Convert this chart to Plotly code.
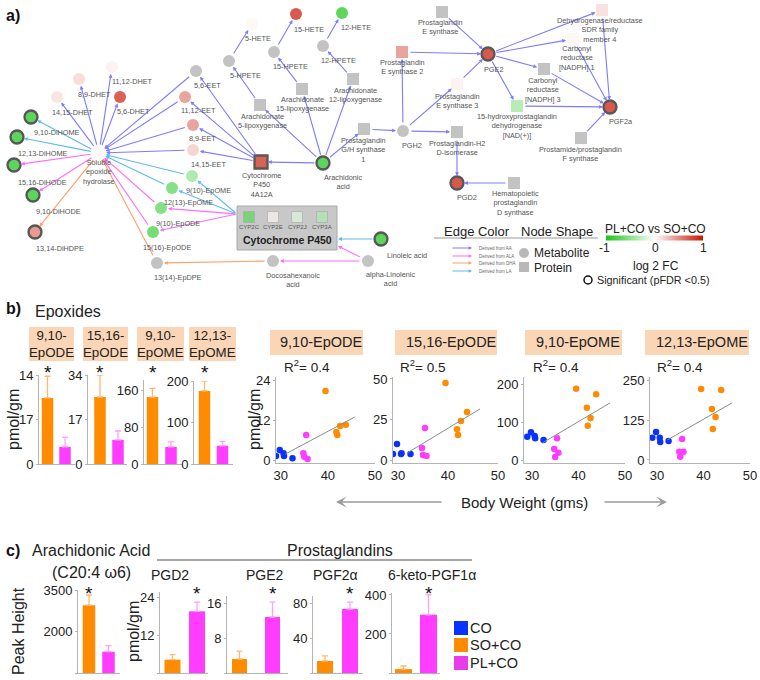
import plotly.graph_objects as go

W, H = 760, 680
FONT = "Arial, 'Liberation Sans', sans-serif"

# ======================= DATA =======================
# ---- (a) network: log2 FC (PL+CO vs SO+CO); None = not measured ----
node_ids = ["5-HETE", "15-HETE", "12-HETE", "5-HPETE", "15-HPETE", "12-HPETE", "ALOX15", "ALOX12", "ALOX5",
            "5,6-EET", "11,12-DHET", "8,9-DHET", "14,15-DHET", "5,6-DHET", "11,12-EET", "8,9-EET", "14,15-EET",
            "9,10-DiHOME", "12,13-DiHOME", "15,16-DiHODE", "9,10-DiHODE", "13,14-DiHDPE", "sEH", "CYP4A12A",
            "AA", "PTGS1", "9(10)-EpOME", "12(13)-EpOME", "9(10)-EpODE", "15(16)-EpODE", "13(14)-EpDPE",
            "DHA", "ALA", "LA", "PTGES", "PTGES2", "PGE2", "PTGES3", "DHRS4", "CBR1", "CBR3", "HPGD",
            "PGF2a", "PGH2", "PTGDS", "PGFS", "PGD2", "HPGDS", "CYP2C", "CYP2E", "CYP2J", "CYP3A"]
node_log2fc = [0.05, 1.0, -1.0, None, None, None, None, None, None,
               None, 0.08, 0.2, 0.15, 0.95, 0.55, 0.55, 0.25,
               -1.0, -1.0, -1.0, -1.0, 0.6, 0.04, 0.95,
               -1.0, None, -0.5, -0.75, -0.75, -0.85, None,
               None, None, -1.0, None, 0.55, 1.0, 0.08, 0.18, 0.05, None, -0.45,
               1.0, None, None, None, 1.0, None, -0.7, 0.05, -0.15, -0.35]
significant_nodes = ["9,10-DiHOME", "12,13-DiHOME", "15,16-DiHODE", "9,10-DiHODE", "13,14-DiHDPE",
                     "CYP4A12A", "AA", "LA", "PGE2", "PGF2a", "PGD2"]
# edges: (from, to, precursor)
edges = [
    ("AA", "CYP4A12A", "AA"), ("AA", "ALOX5", "AA"), ("AA", "ALOX15", "AA"), ("AA", "ALOX12", "AA"),
    ("AA", "PTGS1", "AA"), ("ALOX5", "5-HPETE", "AA"), ("ALOX15", "15-HPETE", "AA"),
    ("ALOX12", "12-HPETE", "AA"), ("5-HPETE", "5-HETE", "AA"), ("15-HPETE", "15-HETE", "AA"),
    ("12-HPETE", "12-HETE", "AA"), ("CYP4A12A", "5,6-EET", "AA"), ("CYP4A12A", "11,12-EET", "AA"),
    ("CYP4A12A", "8,9-EET", "AA"), ("CYP4A12A", "14,15-EET", "AA"), ("5,6-EET", "sEH", "AA"),
    ("11,12-EET", "sEH", "AA"), ("8,9-EET", "sEH", "AA"), ("14,15-EET", "sEH", "AA"),
    ("sEH", "14,15-DHET", "AA"), ("sEH", "8,9-DHET", "AA"), ("sEH", "11,12-DHET", "AA"),
    ("sEH", "5,6-DHET", "AA"), ("PTGS1", "PGH2", "AA"), ("PGH2", "PTGES2", "AA"), ("PGH2", "PTGES3", "AA"),
    ("PGH2", "PTGDS", "AA"), ("PTGES", "PGE2", "AA"), ("PTGES2", "PGE2", "AA"), ("PTGES3", "PGE2", "AA"),
    ("PGE2", "DHRS4", "AA"), ("PGE2", "CBR1", "AA"), ("PGE2", "CBR3", "AA"), ("PGE2", "HPGD", "AA"),
    ("DHRS4", "PGF2a", "AA"), ("CBR1", "PGF2a", "AA"), ("CBR3", "PGF2a", "AA"), ("HPGD", "PGF2a", "AA"),
    ("PGFS", "PGF2a", "AA"), ("PTGDS", "PGD2", "AA"), ("HPGDS", "PGD2", "AA"),
    ("LA", "BOX_R1", "LA"), ("BOX_L", "9(10)-EpOME", "LA"), ("BOX_L", "12(13)-EpOME", "LA"),
    ("9(10)-EpOME", "sEH", "LA"), ("12(13)-EpOME", "sEH", "LA"), ("sEH", "9,10-DiHOME", "LA"),
    ("sEH", "12,13-DiHOME", "LA"),
    ("ALA", "BOX_R2", "ALA"), ("ALA", "DHA", "ALA"), ("BOX_L", "9(10)-EpODE", "ALA"),
    ("BOX_L", "15(16)-EpODE", "ALA"), ("9(10)-EpODE", "sEH", "ALA"), ("15(16)-EpODE", "sEH", "ALA"),
    ("sEH", "15,16-DiHODE", "ALA"), ("sEH", "9,10-DiHODE", "ALA"),
    ("DHA", "13(14)-EpDPE", "DHA"), ("13(14)-EpDPE", "sEH", "DHA"), ("sEH", "13,14-DiHDPE", "DHA"),
]

# ---- (b) epoxides: bars (SO+CO, PL+CO) mean and upper error ----
epox_names = ["9,10-<br>EpODE", "15,16-<br>EpODE", "9,10-<br>EpOME", "12,13-<br>EpOME"]
epox_so_mean = [10.4, 25.6, 145, 176]
epox_so_err = [3.4, 8.4, 19, 24]
epox_pl_mean = [2.7, 9.2, 37, 44]
epox_pl_err = [1.5, 3.4, 11, 10]
epox_yticks = [[0, 7, 14], [0, 17, 34], [0, 80, 160], [0, 100, 200]]
epox_yticktext = [["0", "17", "14"], ["0", "17", "34"], ["0", "80", "160"], ["0", "100", "200"]]

# ---- (b) scatter: body weight vs epoxide ----
scatter_titles = ["9,10-EpODE", "15,16-EpODE", "9,10-EpOME", "12,13-EpOME"]
r2_values = ["0.4", "0.5", "0.4", "0.4"]
bw_co = [29.0, 29.8, 30.6, 30.7, 32.5]
bw_so = [39.5, 41.8, 42.0, 42.6, 43.8]
bw_pl = [34.8, 35.0, 35.4, 35.7]
y_co = [[1.2, 3.0, 2.0, 1.2, 0.5], [3.7, 9.9, 3.7, 4.2, 3.7], [62, 74, 64, 58, 53], [70, 88, 70, 57, 60]]
y_so = [[20.7, 8.4, 7.5, 10.2, 10.6], [47.5, 19, 15.4, 24, 29.6], [190, 139, 91, 112, 175], [224, 161, 98, 136, 221]]
y_pl = [[2.0, 1.0, 7.5, 0.3], [7.4, 3.1, 19.8, 2.5], [29, 8, 58, 19], [26, 10, 66, 26]]
trend_x = [[31.0, 45.7], [31.8, 46.4], [32.2, 46.8], [32.2, 46.1]]
trend_y = [[1.8, 12.9], [4.3, 31.5], [45, 152], [63, 180]]
scatter_yticks = [[0, 12, 24], [0, 25, 50], [0, 100, 200], [0, 125, 250]]
bw_ticks = [30, 40, 50]

# ---- (c) arachidonic acid and prostaglandins ----
c_names = ["AA", "PGD2", "PGE2", "PGF2α", "6-keto-PGF1α"]
c_so_mean = [2950, 4.2, 3.2, 13.9, 20]
c_so_err = [370, 1.6, 1.8, 5.8, 16]
c_pl_mean = [1270, 19.5, 12.8, 74, 298]
c_pl_err = [220, 2.9, 3.4, 8, 102]
c_yticks = [[500, 2000, 3500], [0, 12, 24], [0, 8, 16], [0, 40, 80], [0, 200, 400]]
c_star_on = [0, 1, 1, 1, 1]   # 0 = SO+CO bar, 1 = PL+CO bar

group_names = ["CO", "SO+CO", "PL+CO"]

# ======================= STYLE / LAYOUT =======================
C_CO, C_SO, C_PL = "#0a32ff", "#ff8c00", "#ff3cff"
E_SO, E_PL = "#ffb870", "#ffa0ff"
PEACH = "#fbd6b6"
EDGE_COL = {"AA": "#7c7cff", "ALA": "#ff6cff", "DHA": "#ff9f6a", "LA": "#5cbcec"}
CSCALE = [[0, "#19c419"], [0.5, "#ffffff"], [1, "#c81400"]]
LBL = 7.3  # network label size

# node layout in figure pixels: id -> (x, y, shape, label, label_x, label_y)
NL = {
    "5-HETE": (252, 24, "o", "5-HETE", 258, 38),
    "15-HETE": (296, 14, "o", "15-HETE", 309, 29),
    "12-HETE": (342, 13, "o", "12-HETE", 356, 27),
    "5-HPETE": (229, 61, "o", "5-HPETE", 245, 75),
    "15-HPETE": (274, 52, "o", "15-HPETE", 290, 66),
    "12-HPETE": (323, 46, "o", "12-HPETE", 338, 60),
    "ALOX15": (302, 89, "s", "Arachidonate<br>15-lipoxygenase", 302, 104),
    "ALOX12": (353, 79, "s", "Arachidonate<br>12-lipoxygenase", 355, 95),
    "ALOX5": (260, 105, "s", "Arachidonate<br>5-lipoxygenase", 262, 121),
    "5,6-EET": (196, 71, "o", "5,6-EET", 207, 85),
    "11,12-DHET": (112, 67, "o", "11,12-DHET", 132, 81),
    "8,9-DHET": (79, 79, "o", "8,9-DHET", 94, 94),
    "14,15-DHET": (57, 97, "o", "14,15-DHET", 72, 112),
    "5,6-DHET": (120, 97, "o", "5,6-DHET", 133, 111),
    "11,12-EET": (185, 97, "o", "11,12-EET", 198, 110),
    "8,9-EET": (193, 125, "o", "8,9-EET", 202, 138),
    "14,15-EET": (193, 150, "o", "14,15-EET", 208, 164),
    "9,10-DiHOME": (31, 117, "o", "9,10-DiHOME", 57, 132),
    "12,13-DiHOME": (17, 137, "o", "12,13-DiHOME", 43, 153),
    "15,16-DiHODE": (14, 165, "o", "15,16-DiHODE", 42, 182),
    "9,10-DiHODE": (33, 195, "o", "9,10-DiHODE", 58, 211),
    "13,14-DiHDPE": (35, 232, "o", "13,14-DiHDPE", 60, 248),
    "sEH": (99, 153, "s", "Soluble<br>epoxide<br>hydrolase", 99, 172),
    "CYP4A12A": (261, 162, "s", "Cytochrome<br>P450<br>4A12A", 261, 185),
    "AA": (323, 163, "o", "Arachidonic<br>acid", 343, 182),
    "PTGS1": (364, 129, "s", "Prostaglandin<br>G/H synthase<br>1", 363, 150),
    "9(10)-EpOME": (192, 176, "o", "9(10)-EpOME", 208, 190),
    "12(13)-EpOME": (172, 188, "o", "12(13)-EpOME", 188, 202),
    "9(10)-EpODE": (161, 208, "o", "9(10)-EpODE", 178, 223),
    "15(16)-EpODE": (153, 232, "o", "15(16)-EpODE", 167, 247),
    "13(14)-EpDPE": (157, 263, "o", "13(14)-EpDPE", 178, 277),
    "DHA": (273, 261, "o", "Docosahexanoic<br>acid", 293, 280),
    "ALA": (368, 261, "o", "alpha-Linolenic<br>acid", 390, 279),
    "LA": (381, 239, "o", "Linoleic acid", 407, 255),
    "PTGES": (442, 12, "s", "Prostaglandin<br>E synthase", 440, 27),
    "PTGES2": (402, 52, "s", "Prostaglandin<br>E synthase 2", 402, 67),
    "PGE2": (488, 54, "o", "PGE2", 493, 69),
    "PTGES3": (457, 84, "s", "Prostaglandin<br>E synthase 3", 457, 101),
    "DHRS4": (602, 10, "s", "Dehydrogenase/reductase<br>SDR family<br>member 4", 600, 30),
    "CBR1": (573, 39, "s", "Carbonyl<br>reductase<br>[NADPH] 1", 577, 58),
    "CBR3": (544, 69, "s", "Carbonyl<br>reductase<br>[NADPH] 3", 543, 90),
    "HPGD": (517, 106, "s", "15-hydroxyprostaglandin<br>dehydrogenase<br>[NAD(+)]", 517, 126),
    "PGF2a": (610, 107, "o", "PGF2a", 621, 121),
    "PGH2": (403, 131, "o", "PGH2", 412, 145),
    "PTGDS": (457, 132, "s", "Prostaglandin-H2<br>D-isomerase", 457, 148),
    "PGFS": (581, 138, "s", "Prostamide/prostaglandin<br>F synthase", 580, 154),
    "PGD2": (457, 183, "o", "PGD2", 467, 197),
    "HPGDS": (514, 183, "s", "Hematopoietic<br>prostaglandin<br>D synthase", 515, 203),
    "CYP2C": (249, 217, "b", "CYP2C", 249, 227),
    "CYP2E": (273, 217, "b", "CYP2E", 273, 227),
    "CYP2J": (297, 217, "b", "CYP2J", 297, 227),
    "CYP3A": (322, 217, "b", "CYP3A", 322, 227),
    "BOX_L": (237, 214, "v", None, 0, 0),
    "BOX_R1": (338, 239, "v", None, 0, 0),
    "BOX_R2": (338, 246, "v", None, 0, 0),
}

fig = go.Figure()
ann = []
shapes = []
layout_axes = {}


def T(x, y, text, size=12, color="#222", xanchor="center", yanchor="middle", bold=False, angle=0):
    if bold:
        text = "<b>" + text + "</b>"
    ann.append(dict(x=x, y=y, xref="x", yref="y", text=text, showarrow=False, xanchor=xanchor,
                    yanchor=yanchor, textangle=angle, font=dict(size=size, color=color, family=FONT)))


def rect(x0, y0, x1, y1, fill, line="rgba(0,0,0,0)", lw=0):
    shapes.append(dict(type="rect", xref="x", yref="y", x0=x0, y0=y0, x1=x1, y1=y1, fillcolor=fill,
                       line=dict(color=line, width=lw), layer="below"))


def line(x0, y0, x1, y1, color, w=1):
    shapes.append(dict(type="line", xref="x", yref="y", x0=x0, y0=y0, x1=x1, y1=y1,
                       line=dict(color=color, width=w)))


def arrow(x0, y0, x1, y1, color, w=1.1, size=0.8, so=0, sso=0, head=2):
    ann.append(dict(x=x1, y=y1, ax=x0, ay=y0, xref="x", yref="y", axref="x", ayref="y", text="",
                    showarrow=True, arrowhead=head, arrowsize=size, arrowwidth=w, arrowcolor=color,
                    standoff=so, startstandoff=sso))


# ------------------ panel a ------------------
T(13, 15, "a)", 16, "#111", bold=True)
rect(237, 206, 337, 250, "#c8c8c8", "#a8a8a8", 1)
T(287, 240, "Cytochrome P450", 10.5, "#222", bold=True)


def radius(n):
    s = NL[n][2]
    return 0 if s == "v" else 7

for s, t, p in edges:
    x0, y0 = NL[s][0], NL[s][1]
    x1, y1 = NL[t][0], NL[t][1]
    arrow(x0, y0, x1, y1, EDGE_COL[p], w=1.1, size=0.7, so=radius(t), sso=radius(s))

fc = dict(zip(node_ids, node_log2fc))
cx, cy, cc, csym, csize, clw, clc = [], [], [], [], [], [], []
gx, gy, gsym = [], [], []
for n in node_ids:
    x, y, sh, lab, lx, ly = NL[n]
    sym = "circle" if sh == "o" else "square"
    if fc[n] is None:
        gx.append(x); gy.append(y); gsym.append(sym)
    else:
        cx.append(x); cy.append(y); cc.append(fc[n]); csym.append(sym)
        sig = n in significant_nodes
        csize.append(11 if sh == "b" else (13 if sig else 12))
        clw.append(2.3 if sig else (0.6 if sh == "b" else 0))
        clc.append("#111" if sig else ("#9a9a9a" if sh == "b" else "rgba(0,0,0,0)"))
    if lab:
        T(lx, ly, lab, 6 if sh == "b" else LBL, "#555")

fig.add_trace(go.Scatter(x=gx, y=gy, mode="markers", xaxis="x", yaxis="y", hoverinfo="skip",
                         marker=dict(symbol=gsym, size=12, color="#c3c3c3", line=dict(width=0))))
fig.add_trace(go.Scatter(
    x=cx, y=cy, mode="markers", xaxis="x", yaxis="y", hoverinfo="skip",
    marker=dict(symbol=csym, size=csize, color=cc, colorscale=CSCALE, cmin=-1, cmax=1,
                line=dict(width=clw, color=clc), showscale=True,
                colorbar=dict(orientation="h", x=654.5 / W, xanchor="center", y=1 - 238 / H, yanchor="middle",
                              len=97 / W, lenmode="fraction", thickness=5, showticklabels=False, ticks="",
                              outlinewidth=0, xpad=0, ypad=0))))

# legend of network
T(477, 231, "Edge Color", 13, "#222")
T(557, 231, "Node Shape", 13, "#222")
line(434, 238, 598, 238, "#999", 1)
for i, (p, lab) in enumerate([("AA", "Derived from AA"), ("ALA", "Derived from ALA"),
                              ("DHA", "Derived from DHA"), ("LA", "Derived from LA")]):
    yy = [248, 256, 263, 271][i]
    arrow(451, yy, 472, yy, EDGE_COL[p], w=1, size=0.7)
    T(477, yy, lab, 4.5, "#666", xanchor="left")
fig.add_trace(go.Scatter(x=[524, 524], y=[253, 267], mode="markers", xaxis="x", yaxis="y", hoverinfo="skip",
                         marker=dict(symbol=["circle", "square"], size=10, color="#b8b8b8")))
T(532, 253, "Metabolite", 12, "#222", xanchor="left")
T(532, 268, "Protein", 12, "#222", xanchor="left")
T(655, 229, "PL+CO vs SO+CO", 12, "#222")
T(604, 248, "-1", 12, "#222")
T(655, 248, "0", 12, "#222")
T(703, 248, "1", 12, "#222")
T(656, 266, "log 2 FC", 12, "#222")
fig.add_trace(go.Scatter(x=[588], y=[280], mode="markers", xaxis="x", yaxis="y", hoverinfo="skip",
                         marker=dict(symbol="circle-open", size=8, color="#111", line=dict(width=1.5))))
T(595, 280, "Significant (pFDR <0.5)", 10.8, "#222", xanchor="left")

# network axis = full-figure pixel coordinates
layout_axes["xaxis"] = dict(domain=[0, 1], range=[0, W], visible=False, fixedrange=True)
layout_axes["yaxis"] = dict(domain=[0, 1], range=[H, 0], visible=False, fixedrange=True)

AXC = "#b4b4b4"


def add_axes(i, xl, xr, yt, yb, xrange, yrange, yticks, yticktext=None, xticks=None, tick_size=12.5):
    layout_axes[f"xaxis{i}"] = dict(domain=[xl / W, xr / W], range=xrange, anchor=f"y{i}", showline=True,
                                    linecolor=AXC, linewidth=1, showgrid=False, zeroline=False,
                                    ticks="", showticklabels=xticks is not None,
                                    tickvals=xticks, tickfont=dict(size=tick_size, color="#222", family=FONT),
                                    fixedrange=True)
    layout_axes[f"yaxis{i}"] = dict(domain=[1 - yb / H, 1 - yt / H], range=yrange, anchor=f"x{i}",
                                    showline=True, linecolor=AXC, linewidth=1, showgrid=False,
                                    zeroline=False, ticks="outside", ticklen=2, tickcolor=AXC,
                                    tickvals=yticks, ticktext=yticktext or [str(v) for v in yticks],
                                    tickfont=dict(size=tick_size, color="#222", family=FONT), fixedrange=True)


def bar_pair(i, so_m, so_e, pl_m, pl_e, wdt):
    fig.add_trace(go.Bar(x=[0], y=[so_m], width=wdt, marker=dict(color=C_SO, line=dict(width=0)),
                         xaxis=f"x{i}", yaxis=f"y{i}", hoverinfo="skip",
                         error_y=dict(type="data", symmetric=False, array=[so_e], arrayminus=[0],
                                      color=E_SO, thickness=1.3, width=3)))
    fig.add_trace(go.Bar(x=[1], y=[pl_m], width=wdt, marker=dict(color=C_PL, line=dict(width=0)),
                         xaxis=f"x{i}", yaxis=f"y{i}", hoverinfo="skip",
                         error_y=dict(type="data", symmetric=False, array=[pl_e], arrayminus=[0],
                                      color=E_PL, thickness=1.3, width=3)))


def star(i, xpos, y):
    ann.append(dict(x=xpos, y=y, xref=f"x{i}", yref="y", text="*", showarrow=False,
                    font=dict(size=19, color="#111", family=FONT), yanchor="middle"))


# ------------------ panel b ------------------
T(13, 308, "b)", 16, "#111", bold=True)
T(68, 311, "Epoxides", 16, "#222")
# bar charts: axis px, centre0 px, px per unit, right px, top px, ymax
b_geo = [(39, 47.5, 17.5, 75, 375, 14), (88, 100, 18, 127, 375, 34),
         (144, 152.5, 18.5, 182, 380, 182), (194, 204.5, 18, 233, 381, 200)]
b_box = [(29, 74), (83, 128), (137, 184), (189, 236)]
for k in range(4):
    i = 2 + k
    ax, c0, ppu, xr, yt, ymax = b_geo[k]
    lo = -(c0 - ax) / ppu
    add_axes(i, ax, xr, yt, 464, [lo, lo + (xr - ax) / ppu], [0, ymax], epox_yticks[k], epox_yticktext[k],
             tick_size=13)
    bar_pair(i, epox_so_mean[k], epox_so_err[k], epox_pl_mean[k], epox_pl_err[k], 11.5 / ppu)
    rect(b_box[k][0], 327, b_box[k][1], 361, PEACH)
    T((b_box[k][0] + b_box[k][1]) / 2, 344, epox_names[k], 13.3, "#222")
    star(i, 0, 372)
T(13, 420, "pmol/gm", 16, "#222", angle=-90)

# scatter plots
s_geo = [(276, 375, 29.0, [-0.9, 24.9]), (393, 498, 29.0, [-1.85, 51.2]),
         (524, 625, 28.3, [-8, 221]), (650, 750, 28.5, [-9.5, 262])]
s_box = [(270, 363, 321), (395, 497, 451), (525, 622, 578), (645, 749, 702)]
s_r2x = [282, 398, 531, 655]
for k in range(4):
    i = 6 + k
    xl, xr, x0, yr = s_geo[k]
    add_axes(i, xl, xr, 377, 463, [x0, 50], yr, scatter_yticks[k], xticks=bw_ticks, tick_size=13)
    for xs, ys, col in [(bw_co, y_co[k], C_CO), (bw_pl, y_pl[k], C_PL), (bw_so, y_so[k], C_SO)]:
        fig.add_trace(go.Scatter(x=xs, y=ys, mode="markers", xaxis=f"x{i}", yaxis=f"y{i}", hoverinfo="skip",
                                 marker=dict(size=6.5, color=col, line=dict(width=0))))
    fig.add_trace(go.Scatter(x=trend_x[k], y=trend_y[k], mode="lines", xaxis=f"x{i}", yaxis=f"y{i}",
                             hoverinfo="skip", line=dict(color="#8c8c8c", width=1)))
    rect(s_box[k][0], 330, s_box[k][1], 355, PEACH)
    T(s_box[k][2], 342, scatter_titles[k], 14.5, "#222")
    T(s_r2x[k], 366, "R<sup>2</sup>= " + r2_values[k], 13.5, "#222", xanchor="left")
T(254, 420, "pmol/gm", 16, "#222", angle=-90)
T(524, 502, "Body Weight (gms)", 15, "#222")
arrow(443, 502, 336, 502, "#9a9a9a", w=1.5, size=1.2, head=3)
arrow(603, 502, 667, 502, "#9a9a9a", w=1.5, size=1.2, head=3)

# ------------------ panel c ------------------
T(13, 550, "c)", 16, "#111", bold=True)
T(91, 550, "Arachidonic Acid", 16, "#222")
T(91, 572, "(C20:4 ω6)", 16, "#222")
T(340, 550, "Prostaglandins", 16, "#222")
line(157, 560, 472, 560, "#8a8a8a", 1.5)
for txt, xx in [("PGD2", 170), ("PGE2", 265), ("PGF2α", 335), ("6-keto-PGF1α", 432)]:
    T(xx, 575, txt, 14, "#222")
# axis px, centre0 px, px per unit, right px, top px, y range, bar px
c_geo = [(78, 89, 19.5, 120, 590, [500, 3500], 12.5), (160, 172.5, 24.5, 208, 592, [0, 25.6], 16),
         (227, 239.5, 33, 288, 596, [0, 17.6], 15), (313, 325, 25, 363, 596, [0, 89], 16),
         (392, 403.5, 25, 440, 593, [0, 410], 17)]
for k in range(5):
    i = 10 + k
    ax, c0, ppu, xr, yt, yrg, bpx = c_geo[k]
    lo = -(c0 - ax) / ppu
    add_axes(i, ax, xr, yt, 673, [lo, lo + (xr - ax) / ppu], yrg, c_yticks[k], tick_size=13)
    bar_pair(i, c_so_mean[k], c_so_err[k], c_pl_mean[k], c_pl_err[k], bpx / ppu)
    star(i, c_star_on[k], 593)
T(18, 631, "Peak Height", 16, "#222", angle=-90)
T(133, 632, "pmol/gm", 16, "#222", angle=-90)

# group legend
fig.add_trace(go.Scatter(x=[461, 461, 461], y=[628, 645, 663], mode="markers", xaxis="x", yaxis="y",
                         hoverinfo="skip", marker=dict(symbol="square", size=14,
                                                       color=[C_CO, C_SO, "#e83ce8"])))
for nm, yy in zip(group_names, [628, 645, 663]):
    T(468, yy, nm, 14.5, "#222", xanchor="left")

fig.update_layout(width=W, height=H, margin=dict(l=0, r=0, t=0, b=0, pad=0, autoexpand=False),
                  paper_bgcolor="white", plot_bgcolor="rgba(0,0,0,0)", showlegend=False,
                  annotations=ann, shapes=shapes, font=dict(family=FONT), **layout_axes)
fig.write_html("out.html", config={"displayModeBar": False},
               post_script="document.body.style.margin='0';document.body.style.padding='0';"
                           "document.documentElement.style.overflow='hidden';")
